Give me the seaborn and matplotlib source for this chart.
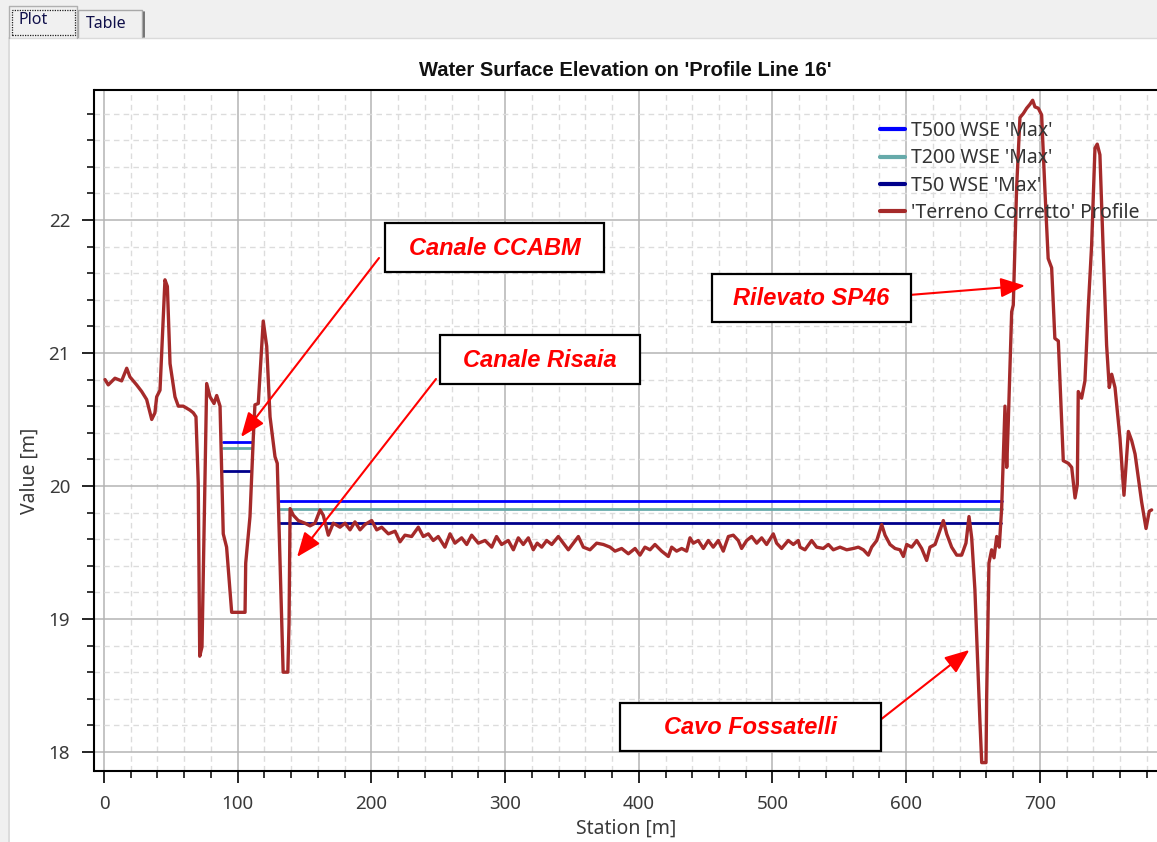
import numpy as np
import pandas as pd
import matplotlib
matplotlib.use("Agg")
import matplotlib.pyplot as plt
from matplotlib.lines import Line2D
from matplotlib.patches import Rectangle
from matplotlib.ticker import MultipleLocator
import seaborn as sns

# ---- terrain profile along 'Profile Line 16' ----
terrain_station = [
    0.75, 3.2, 8.2, 13.2, 17.0, 19.4, 24.4, 28.2, 31.9, 35.7, 38.1, 39.4, 41.9,
    45.6, 47.4, 49.4, 53.1, 55.6, 59.3, 64.3, 66.8, 68.8, 70.5, 71.6, 73.3,
    76.8, 79.3, 82.3, 84.3, 86.8, 89.2, 91.7, 95.5, 105.5, 106.0, 109.2, 111.7,
    112.9, 115.4, 119.1, 121.7, 124.2, 127.9, 129.6, 132.6, 134.0, 137.5, 138.4,
    139.2, 141.6, 145.3, 150.3, 154.1, 157.8, 161.6, 164.0, 167.8, 171.5, 176.5,
    180.3, 184.0, 187.7, 191.5, 195.2, 200.2, 204.0, 207.7, 212.7, 217.7, 221.4,
    225.1, 230.1, 235.1, 238.8, 242.6, 246.3, 250.0, 255.0, 258.8, 262.5, 267.5,
    271.3, 275.0, 280.0, 285.0, 290.0, 293.6, 297.4, 302.4, 306.2, 309.9, 313.6,
    317.4, 321.1, 324.0, 327.4, 331.1, 334.9, 339.8, 343.6, 347.3, 351.1, 354.8,
    358.5, 363.5, 368.5, 373.5, 378.5, 382.2, 387.2, 392.2, 397.2, 400.9, 404.6,
    408.4, 412.1, 417.1, 422.1, 424.6, 428.3, 432.1, 435.8, 438.3, 440.8, 444.5,
    448.3, 452.0, 455.7, 459.5, 463.2, 467.0, 470.7, 474.4, 476.9, 480.7, 484.4,
    488.2, 491.9, 495.6, 500.6, 503.1, 506.8, 511.8, 515.6, 519.3, 520.6, 524.3,
    529.3, 533.0, 538.0, 541.8, 545.5, 550.5, 555.5, 560.5, 564.2, 568.0, 571.7,
    574.2, 578.0, 581.7, 584.2, 587.9, 591.7, 595.4, 597.9, 600.4, 604.1, 607.9,
    611.6, 615.3, 617.8, 621.6, 624.0, 627.8, 630.3, 634.0, 637.8, 641.5, 644.7,
    647.0, 649.0, 651.4, 655.2, 656.5, 659.7, 660.2, 661.9, 663.9, 665.7, 667.7,
    669.6, 671.4, 673.9, 675.2, 676.4, 678.9, 680.1, 682.6, 685.1, 687.6, 690.1,
    692.6, 694.6, 696.3, 698.8, 701.3, 703.7, 706.2, 708.8, 711.2, 713.8, 717.5,
    721.3, 723.8, 726.3, 728.0, 728.7, 731.2, 733.7, 736.2, 738.7, 741.2, 742.9,
    744.9, 747.4, 749.9, 751.9, 753.7, 756.2, 759.9, 762.9, 766.2, 768.7, 771.2,
    776.1, 779.4, 781.8, 783.6,
]
terrain_elev = [
    20.80, 20.76, 20.81, 20.79, 20.885, 20.82, 20.76, 20.71, 20.65, 20.50, 20.55,
    20.67, 20.72, 21.55, 21.50, 20.92, 20.67, 20.60, 20.60, 20.57, 20.55, 20.52,
    20.02, 18.72, 18.79, 20.77, 20.67, 20.62, 20.68, 20.60, 19.64, 19.54, 19.05,
    19.05, 19.42, 19.77, 20.37, 20.61, 20.62, 21.24, 21.05, 20.52, 20.22, 20.17,
    19.11, 18.60, 18.60, 18.97, 19.83, 19.78, 19.74, 19.72, 19.70, 19.72, 19.82,
    19.78, 19.63, 19.72, 19.69, 19.72, 19.67, 19.73, 19.67, 19.71, 19.74, 19.67,
    19.69, 19.64, 19.66, 19.58, 19.63, 19.62, 19.69, 19.62, 19.64, 19.59, 19.62,
    19.54, 19.64, 19.57, 19.61, 19.56, 19.63, 19.57, 19.59, 19.54, 19.62, 19.56,
    19.59, 19.52, 19.61, 19.56, 19.61, 19.52, 19.57, 19.54, 19.59, 19.56, 19.62,
    19.57, 19.52, 19.57, 19.62, 19.54, 19.52, 19.57, 19.56, 19.54, 19.51, 19.53,
    19.49, 19.53, 19.48, 19.54, 19.52, 19.56, 19.51, 19.47, 19.54, 19.51, 19.53,
    19.51, 19.61, 19.57, 19.59, 19.53, 19.59, 19.54, 19.59, 19.51, 19.62, 19.63,
    19.59, 19.53, 19.59, 19.62, 19.57, 19.61, 19.56, 19.64, 19.57, 19.53, 19.59,
    19.56, 19.59, 19.54, 19.52, 19.59, 19.54, 19.53, 19.56, 19.52, 19.54, 19.52,
    19.53, 19.54, 19.52, 19.48, 19.54, 19.59, 19.71, 19.63, 19.56, 19.53, 19.52,
    19.47, 19.56, 19.54, 19.59, 19.53, 19.44, 19.54, 19.56, 19.63, 19.74, 19.64,
    19.54, 19.48, 19.48, 19.57, 19.77, 19.61, 19.22, 18.22, 17.92, 17.92, 18.42,
    19.42, 19.52, 19.46, 19.62, 19.54, 19.83, 20.60, 20.14, 20.49, 21.31, 21.36,
    22.24, 22.77, 22.80, 22.84, 22.87, 22.90, 22.85, 22.84, 22.79, 22.24, 21.71,
    21.64, 21.11, 21.09, 20.19, 20.17, 20.14, 19.91, 20.01, 20.71, 20.66, 20.79,
    21.34, 21.81, 22.54, 22.57, 22.49, 21.76, 21.06, 20.74, 20.84, 20.74, 20.36,
    19.93, 20.41, 20.34, 20.24, 19.88, 19.68, 19.81, 19.82,
]

# ---- maximum water surface elevations (two wetted reaches) ----
wse_series = ["T500 WSE 'Max'", "T200 WSE 'Max'", "T50 WSE 'Max'"]
canal_start = [89.2, 89.2, 89.2]
canal_end = [110.9, 110.9, 109.7]
reach_start = [131.6, 131.6, 131.6]
reach_end = [672.0, 672.0, 670.6]
canal_wse = [20.333, 20.283, 20.115]
reach_wse = [19.887, 19.825, 19.72]
terrain_label = "'Terreno Corretto' Profile"

# ---- callouts ----
callout_text = ["Canale CCABM", "Canale Risaia", "Rilevato SP46", "Cavo Fossatelli"]
callout_target_station = [102.5, 144.4, 688.9, 647.3]
callout_target_elev = [20.368, 19.466, 21.506, 18.767]

# colours
wse_colors = ["#0000FF", "#66AAAA", "#00008B"]
terrain_color = "#A52A2A"

sns.set_theme(style="white")
ui_font = ["Noto Sans", "DejaVu Sans"]
plt.rcParams["font.family"] = ui_font

W, H, DPI = 1157, 842, 100
fig = plt.figure(figsize=(W / DPI, H / DPI), dpi=DPI)
fig.patch.set_facecolor("white")

# px helpers for the window frame (figure fraction)
def fx(px):
    return px / W

def fy(py):
    return 1 - py / H

# window chrome: tab strip and panel border
fig.add_artist(Rectangle((0, fy(38)), 1, 38 / H, transform=fig.transFigure,
                         facecolor="#F0F0F0", edgecolor="none", zorder=0))
fig.add_artist(Rectangle((0, 0), fx(8), fy(38), transform=fig.transFigure,
                         facecolor="#F0F0F0", edgecolor="none", zorder=0))
fig.add_artist(Line2D([fx(8.5), fx(8.5)], [0, fy(38)], transform=fig.transFigure,
                      color="#D5D5D5", lw=1.2))
fig.add_artist(Line2D([fx(8.5), 1], [fy(38), fy(38)], transform=fig.transFigure,
                      color="#DADADA", lw=1.0))
# "Table" tab outline
fig.add_artist(Line2D([fx(78), fx(78), fx(142), fx(142)], [fy(37), fy(10), fy(10), fy(37)],
                      transform=fig.transFigure, color="#A8A8A8", lw=1.0))
fig.add_artist(Line2D([fx(143.5), fx(143.5)], [fy(12), fy(37)], transform=fig.transFigure,
                      color="#606060", lw=1.2))
# "Plot" tab with focus rectangle
fig.add_artist(Line2D([fx(9), fx(9), fx(77), fx(77)], [fy(38), fy(6), fy(6), fy(38)],
                      transform=fig.transFigure, color="#B0B0B0", lw=1.0))
fig.add_artist(Rectangle((fx(11.5), fy(35)), fx(63), 24.5 / H, transform=fig.transFigure,
                         facecolor="none", edgecolor="#202020", lw=0.9, ls=(0, (1, 1))))
fig.text(fx(18), fy(20), "Plot", fontsize=11.5, color="#10104a", va="center", ha="left")
fig.text(fx(86), fy(24), "Table", fontsize=11.5, color="#10104a", va="center", ha="left")

# plot area
ax_l, ax_r, ax_b, ax_t = 94.5, 1157, 771, 90
ax = fig.add_axes([fx(ax_l), fy(ax_b), fx(ax_r - ax_l), (ax_b - ax_t) / H])

# long-form water surface table, one unit per wetted reach
rows = []
for i, name in enumerate(wse_series):
    rows += [
        dict(series=name, reach="canal", station=canal_start[i], wse=canal_wse[i]),
        dict(series=name, reach="canal", station=canal_end[i], wse=canal_wse[i]),
        dict(series=name, reach="main", station=reach_start[i], wse=reach_wse[i]),
        dict(series=name, reach="main", station=reach_end[i], wse=reach_wse[i]),
    ]
wse = pd.DataFrame(rows)
palette = dict(zip(wse_series, wse_colors))

sns.lineplot(data=wse, x="station", y="wse", hue="series", units="reach",
             estimator=None, palette=palette, hue_order=wse_series,
             linewidth=2.0, legend=False, ax=ax, zorder=3)

terrain = pd.DataFrame({"station": terrain_station, "elev": terrain_elev})
sns.lineplot(data=terrain, x="station", y="elev", sort=False, estimator=None,
             color=terrain_color, linewidth=2.4, ax=ax, zorder=4)

# axes, ticks and grid
ax.set_xlim(-7.1, 787.6)
ax.set_ylim(17.857, 22.977)
ax.xaxis.set_major_locator(MultipleLocator(100))
ax.xaxis.set_minor_locator(MultipleLocator(20))
ax.yaxis.set_major_locator(MultipleLocator(1))
ax.yaxis.set_minor_locator(MultipleLocator(0.2))
ax.grid(True, which="major", color="#B4B4B4", lw=1.1, ls="-")
ax.grid(True, which="minor", color="#DCDCDC", lw=1.0, ls=(0, (4, 3)))
ax.set_axisbelow(True)
ax.tick_params(which="major", direction="out", length=8.5, width=1.2, color="black",
               labelsize=13.5, labelcolor="#3a3a3a", pad=9,
               bottom=True, left=True, top=False, right=False)
ax.tick_params(which="minor", direction="out", length=5, width=1.1, color="black",
               bottom=True, left=True, top=False, right=False)
for side in ("left", "bottom", "top"):
    ax.spines[side].set_color("black")
    ax.spines[side].set_linewidth(1.5)
ax.spines["right"].set_visible(False)

ax.set_xlabel("Station [m]", fontsize=14, color="#3a3a3a", va="center")
ax.set_ylabel("Value [m]", fontsize=14, color="#3a3a3a")
ax.xaxis.set_label_coords(0.5, -(829 - ax_b) / (ax_b - ax_t))
ax.yaxis.set_label_coords(-0.0513, 0.44)

fig.text(fx(625), fy(70), "Water Surface Elevation on 'Profile Line 16'",
         fontsize=14.5, fontweight="bold", family=["Liberation Sans", "DejaVu Sans"],
         ha="center", va="center", color="#111111")

# legend
handles = [Line2D([], [], color=c, lw=3) for c in wse_colors]
handles.append(Line2D([], [], color=terrain_color, lw=3))
labels = wse_series + [terrain_label]
ax.legend(handles, labels, loc="upper left", bbox_to_anchor=(fx(880), fy(121)),
          bbox_transform=fig.transFigure, frameon=False, fontsize=14,
          handlelength=1.3, handletextpad=0.3, labelspacing=0.38,
          borderpad=0, borderaxespad=0, labelcolor="#333333")

# callouts: framed labels (figure px) with red arrows to the features
box_px = [(385, 223, 604, 272), (440.5, 335, 639.5, 383.5),
          (712, 273.5, 911, 321.5), (620, 702.5, 880.5, 751)]
arrow_start_px = [(379, 258), (436, 379), (909, 295), (878, 721.7)]
callout_font = ["Liberation Sans", "DejaVu Sans"]
for i, text in enumerate(callout_text):
    x0, y0, x1, y1 = box_px[i]
    fig.add_artist(Rectangle((fx(x0), fy(y1)), fx(x1 - x0), (y1 - y0) / H,
                             transform=fig.transFigure, facecolor="white",
                             edgecolor="black", lw=1.6, zorder=10))
    fig.text(fx((x0 + x1) / 2), fy((y0 + y1) / 2 + 1), text, fontsize=17,
             fontweight="bold", fontstyle="italic", color="#FF0000",
             family=callout_font, ha="center", va="center", zorder=11)
    sx, sy = arrow_start_px[i]
    ax.annotate("", xy=(callout_target_station[i], callout_target_elev[i]),
                xycoords="data", xytext=(fx(sx), fy(sy)), textcoords="figure fraction",
                arrowprops=dict(arrowstyle="-|>,head_length=0.75,head_width=0.3",
                                mutation_scale=20, color="#FF0000", lw=1.5,
                                shrinkA=0, shrinkB=0),
                zorder=9, annotation_clip=False)

fig.savefig("out.png", dpi=DPI)
